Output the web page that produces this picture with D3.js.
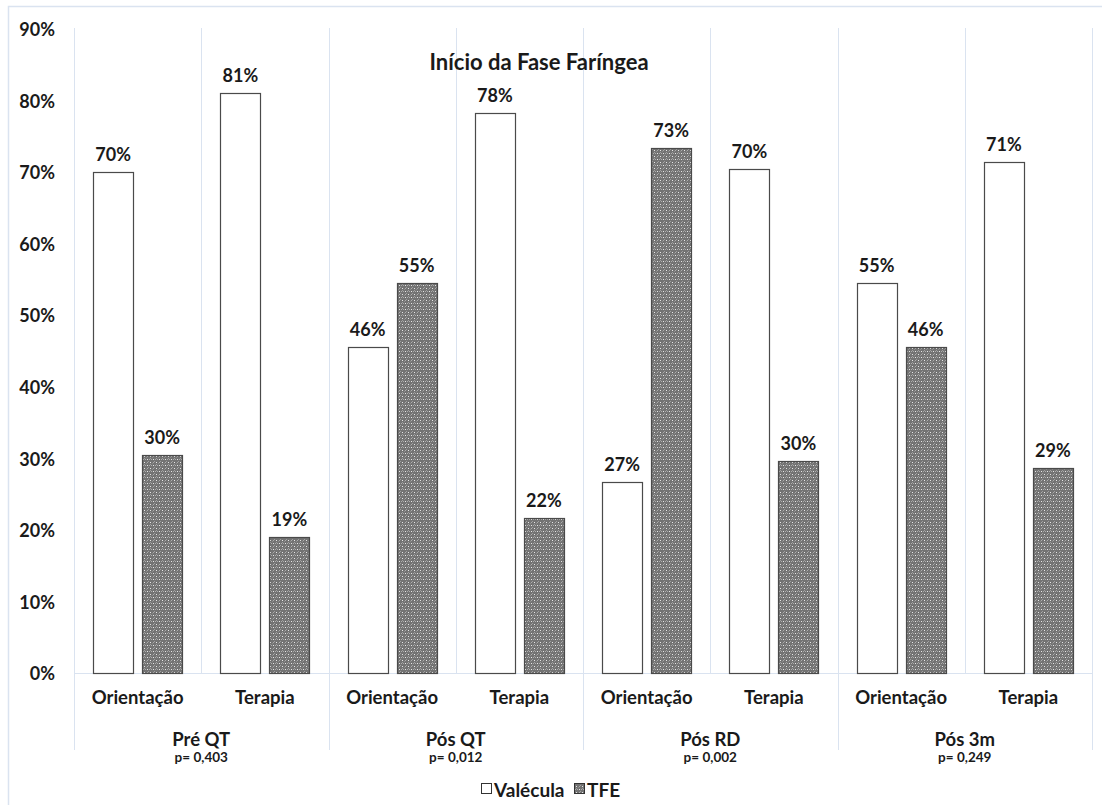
<!DOCTYPE html>
<html><head><meta charset="utf-8">
<script src="https://cdn.jsdelivr.net/npm/d3@7"></script>
<style>
html,body{margin:0;padding:0;background:#fff;}
svg{display:block;font-family:Lato,"Open Sans",sans-serif;font-weight:bold;}
</style></head>
<body>
<svg id="chart" width="1102" height="805"></svg>
<script>
const groups = ["Pré QT","Pós QT","Pós RD","Pós 3m"];
const pValues = ["p= 0,403","p= 0,012","p= 0,002","p= 0,249"];
const subCategories = ["Orientação","Terapia"];
const seriesNames = ["Valécula","TFE"];
// percentages, order: group x subcategory
const valecula = [70.0, 81.0, 45.5, 78.3, 26.7, 70.4, 54.5, 71.4];
const tfe      = [30.4, 19.0, 54.5, 21.7, 73.3, 29.6, 45.5, 28.6];
const yTicks = [0,10,20,30,40,50,60,70,80,90];
const title = "Início da Fase Faríngea";

(function(){
const svg = d3.select("#chart");
const W = 1102, H = 805;
const pLeft = 74, pRight = 1092, pTop = 29, pBottom = 673;
const gridColor = "#dae3f0";
const textColor = "#1a1a1a";

// pattern for TFE
const defs = svg.append("defs");
const pat = defs.append("pattern").attr("id","tfePat").attr("patternUnits","userSpaceOnUse")
  .attr("width",6).attr("height",6);
pat.append("rect").attr("width",6).attr("height",6).attr("fill","#737373");
const dots = [[0,0,"#e6e6e6"],[3,3,"#e6e6e6"],[1,3,"#ababab"],[5,3,"#ababab"],[3,0,"#ababab"],[0,2,"#9e9e9e"],[4,5,"#9e9e9e"],[2,1,"#8c8c8c"]];
pat.selectAll("rect.d").data(dots).join("rect").attr("class","d")
  .attr("x",d=>d[0]).attr("y",d=>d[1]).attr("width",1).attr("height",1).attr("fill",d=>d[2]);

// outer chart border
svg.append("rect").attr("x",8.5).attr("y",6.5).attr("width",W+20).attr("height",H+20)
  .attr("fill","none").attr("stroke",gridColor).attr("stroke-width",1.5);

const cats = [];
groups.forEach((g,gi)=>subCategories.forEach((s,si)=>cats.push({g,gi,s,si,idx:gi*2+si})));

const x = d3.scaleBand().domain(cats.map(c=>c.idx)).range([pLeft,pRight]).padding(0);
const bw = x.bandwidth();
const xs = d3.scaleBand().domain(seriesNames).range([bw/2-44.5,bw/2+44.5]).paddingInner(9/49);
const y = d3.scaleLinear().domain([0,90]).range([pBottom,pTop]);

// vertical gridlines at category boundaries
const boundaries = d3.range(cats.length+1);
const bx = i => Math.round(i<cats.length? x(i): x(cats.length-1)+bw)+0.5;
svg.append("g").selectAll("line").data(boundaries).join("line")
  .attr("x1",bx).attr("x2",bx)
  .attr("y1",pTop-1)
  .attr("y2",i=> i%2===0 ? 750 : pBottom)
  .attr("stroke",gridColor).attr("stroke-width",1);

// horizontal axis line
svg.append("line").attr("x1",pLeft).attr("x2",pRight).attr("y1",pBottom+0.5).attr("y2",pBottom+0.5)
  .attr("stroke",gridColor).attr("stroke-width",1);

// y axis labels
const yAxis = d3.axisLeft(y).tickValues(yTicks).tickFormat(d=>d+"%").tickSize(0).tickPadding(0);
const yg = svg.append("g").attr("transform",`translate(55,1)`).call(yAxis);
yg.select(".domain").remove();
yg.selectAll("text").attr("font-size",18).attr("font-family","Lato").attr("font-weight","bold").attr("fill",textColor);

// bars
const data = [];
cats.forEach(c=>{
  data.push({c, s:"Valécula", v: valecula[c.idx]});
  data.push({c, s:"TFE", v: tfe[c.idx]});
});
svg.append("g").selectAll("rect").data(data).join("rect")
  .attr("x",d=>Math.round(x(d.c.idx)+xs(d.s))+0.5)
  .attr("y",d=>Math.round(y(d.v))+0.5)
  .attr("width",Math.round(xs.bandwidth()))
  .attr("height",d=>Math.round(y(0))-Math.round(y(d.v)))
  .attr("fill",d=>d.s==="TFE"?"url(#tfePat)":"#fff")
  .attr("stroke","#4a4a4a").attr("stroke-width",1.2);

// data labels
svg.append("g").selectAll("text").data(data).join("text")
  .attr("x",d=>x(d.c.idx)+xs(d.s)+xs.bandwidth()/2)
  .attr("y",d=>y(d.v)-11)
  .attr("text-anchor","middle").attr("font-size",18).attr("fill",textColor)
  .text(d=>Math.round(d.v)+"%");

// category labels
svg.append("g").selectAll("text").data(cats).join("text")
  .attr("x",d=>x(d.idx)+bw/2).attr("y",704)
  .attr("text-anchor","middle").attr("font-size",18.5).attr("fill",textColor)
  .text(d=>d.s);

// group labels
svg.append("g").selectAll("text").data(groups).join("text")
  .attr("x",(d,i)=>x(i*2)+bw).attr("y",746)
  .attr("text-anchor","middle").attr("font-size",18.5).attr("fill",textColor)
  .text(d=>d);
svg.append("g").selectAll("text").data(pValues).join("text")
  .attr("x",(d,i)=>x(i*2)+bw).attr("y",762)
  .attr("text-anchor","middle").attr("font-size",13.5).attr("fill",textColor)
  .text(d=>d);

// title
svg.append("text").attr("x",539).attr("y",70).attr("text-anchor","middle")
  .attr("font-size",22).attr("fill",textColor).text(title);

// legend
const lg = svg.append("g");
lg.append("rect").attr("x",481.5).attr("y",783.5).attr("width",10).attr("height",10)
  .attr("fill","#fff").attr("stroke","#333").attr("stroke-width",1);
lg.append("text").attr("x",494).attr("y",797).attr("font-size",19).attr("fill",textColor).text(seriesNames[0]);
lg.append("rect").attr("x",574.5).attr("y",783.5).attr("width",10).attr("height",10)
  .attr("fill","url(#tfePat)").attr("stroke","#333").attr("stroke-width",1);
lg.append("text").attr("x",587).attr("y",797).attr("font-size",19).attr("fill",textColor).text(seriesNames[1]);
})();
</script>
</body></html>
